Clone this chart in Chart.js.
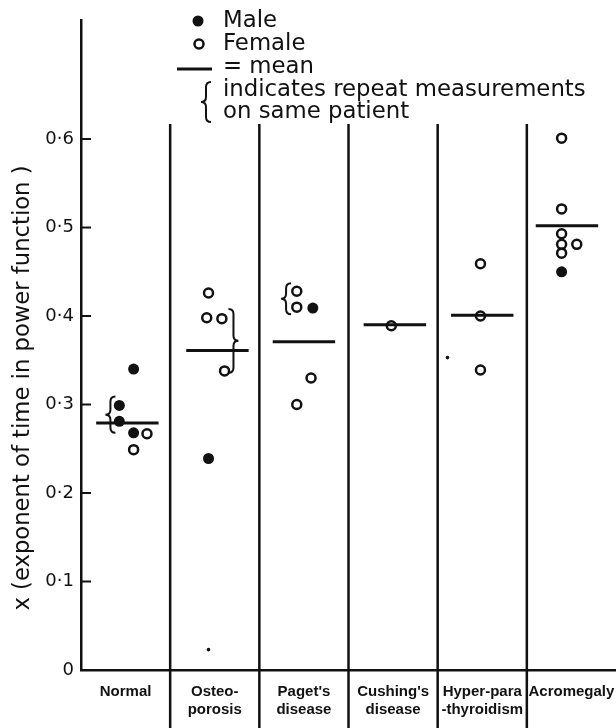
<!DOCTYPE html>
<html>
<head>
<meta charset="utf-8">
<script src="https://cdn.jsdelivr.net/npm/chart.js@4.4.0/dist/chart.umd.min.js"></script>
<style>
  html, body { margin: 0; padding: 0; background: #fff; overflow: hidden; }
  canvas { display: block; }
</style>
</head>
<body>
<canvas id="chart" width="616" height="728"></canvas>
<script>
// categories along the bottom
const groupLabels = [['Normal'], ['Osteo-', 'porosis'], ["Paget's", 'disease'], ["Cushing's", 'disease'], ['Hyper-para', '-thyroidism'], ['Acromegaly']];

// male patients: group index, value, place inside the group (0..1)
const maleGroup  = [0, 0, 0, 0, 1, 2, 5];
const maleValue  = [0.340, 0.299, 0.281, 0.268, 0.239, 0.409, 0.450];
const maleOffset = [0.59, 0.43, 0.43, 0.59, 0.43, 0.60, 0.39];

// female patients
const femaleGroup  = [0, 0, 1, 1, 1, 1, 2, 2, 2, 2, 3, 4, 4, 4, 5, 5, 5, 5, 5, 5];
const femaleValue  = [0.267, 0.249, 0.426, 0.398, 0.397, 0.338, 0.428, 0.410, 0.330, 0.300, 0.389, 0.459, 0.400, 0.339, 0.601, 0.521, 0.493, 0.481, 0.481, 0.471];
const femaleOffset = [0.74, 0.59, 0.43, 0.41, 0.58, 0.61, 0.42, 0.42, 0.58, 0.42, 0.48, 0.48, 0.48, 0.48, 0.39, 0.39, 0.39, 0.39, 0.56, 0.39];

// stray specks printed in the figure
const speckGroup  = [1, 4];
const speckValue  = [0.023, 0.353];
const speckOffset = [0.43, 0.11];

// group means
const meanValue  = [0.279, 0.361, 0.371, 0.390, 0.401, 0.502];
const meanCenter = [0.52, 0.53, 0.50, 0.52, 0.50, 0.45];

// repeat-measurement braces: group, place, top value, bottom value, side (-1 = "{", 1 = "}")
const braceGroup  = [0, 1, 2];
const braceOffset = [0.33, 0.71, 0.30];
const braceTop    = [0.309, 0.408, 0.437];
const braceBottom = [0.268, 0.336, 0.402];
const braceSide   = [-1, 1, -1];

const yTicks = [0, 0.1, 0.2, 0.3, 0.4, 0.5, 0.6];

const ink = '#111';

function pts(g, v, o) {
  return v.map((val, i) => ({ x: g[i] + o[i], y: val }));
}

const meanSets = meanValue.map((m, i) => ({
  type: 'line',
  data: [{ x: i + meanCenter[i] - 0.35, y: m }, { x: i + meanCenter[i] + 0.35, y: m }],
  borderColor: ink,
  borderWidth: 3,
  pointRadius: 0,
  order: 3
}));

function drawBrace(ctx, x, y1, y2, side) {
  const a = 5 * -side;
  const r = Math.min(5, (y2 - y1) / 4);
  const m = (y1 + y2) / 2;
  ctx.beginPath();
  ctx.moveTo(x + a, y1);
  ctx.quadraticCurveTo(x, y1, x, y1 + r);
  ctx.lineTo(x, m - r);
  ctx.quadraticCurveTo(x, m, x - a, m);
  ctx.quadraticCurveTo(x, m, x, m + r);
  ctx.lineTo(x, y2 - r);
  ctx.quadraticCurveTo(x, y2, x + a, y2);
  ctx.stroke();
}

const extras = {
  id: 'extras',
  afterDraw(chart) {
    const ctx = chart.ctx;
    const xs = chart.scales.x, ys = chart.scales.y;
    const area = chart.chartArea;
    ctx.save();
    ctx.strokeStyle = ink;
    ctx.fillStyle = ink;
    ctx.lineCap = 'butt';

    // group dividers
    ctx.lineWidth = 2.5;
    for (let i = 1; i < groupLabels.length; i++) {
      const px = xs.getPixelForValue(i);
      ctx.beginPath();
      ctx.moveTo(px, ys.getPixelForValue(0.617));
      ctx.lineTo(px, chart.height);
      ctx.stroke();
    }

    // tick marks pointing inward
    ctx.lineWidth = 2;
    yTicks.forEach(t => {
      if (t === 0) return;
      const py = ys.getPixelForValue(t);
      ctx.beginPath();
      ctx.moveTo(area.left, py);
      ctx.lineTo(area.left + 10, py);
      ctx.stroke();
    });

    // braces
    ctx.lineWidth = 2;
    braceGroup.forEach((g, i) => {
      drawBrace(ctx, xs.getPixelForValue(g + braceOffset[i]),
        ys.getPixelForValue(braceTop[i]), ys.getPixelForValue(braceBottom[i]), braceSide[i]);
    });

    // legend
    ctx.font = '22.8px "DejaVu Sans"';
    ctx.textBaseline = 'middle';
    ctx.textAlign = 'left';
    ctx.beginPath(); ctx.arc(198, 21, 5.5, 0, Math.PI * 2); ctx.fill();
    ctx.fillText('Male', 223, 21);
    ctx.lineWidth = 2.5;
    ctx.beginPath(); ctx.arc(199, 44, 4.5, 0, Math.PI * 2); ctx.stroke();
    ctx.fillText('Female', 223, 44);
    ctx.lineWidth = 3;
    ctx.beginPath(); ctx.moveTo(177, 69); ctx.lineTo(212, 69); ctx.stroke();
    ctx.fillText('= mean', 223, 67);
    ctx.lineWidth = 2;
    drawBrace(ctx, 206, 82, 122, -1);
    ctx.fillText('indicates repeat measurements', 223, 90);
    ctx.fillText('on same patient', 223, 112);

    // y axis title
    const title = 'x (exponent of time in power function )';
    ctx.font = '20px "DejaVu Sans"';
    const w = ctx.measureText(title).width;
    const size = 20 * 445 / w;
    ctx.font = size.toFixed(1) + 'px "DejaVu Sans"';
    ctx.translate(23, 388);
    ctx.rotate(-Math.PI / 2);
    ctx.textAlign = 'center';
    ctx.fillText(title, 0, 0);
    ctx.restore();
  }
};

new Chart(document.getElementById('chart'), {
  type: 'scatter',
  data: {
    datasets: [
      ...meanSets,
      {
        label: 'Male',
        data: pts(maleGroup, maleValue, maleOffset),
        backgroundColor: ink,
        borderColor: ink,
        pointRadius: 5.5,
        borderWidth: 0,
        order: 1
      },
      {
        label: 'Female',
        data: pts(femaleGroup, femaleValue, femaleOffset),
        backgroundColor: 'rgba(255,255,255,0)',
        borderColor: ink,
        pointRadius: 4.5,
        borderWidth: 2.5,
        order: 1
      },
      {
        label: 'speck',
        data: pts(speckGroup, speckValue, speckOffset),
        backgroundColor: ink,
        borderColor: ink,
        pointRadius: 1.8,
        borderWidth: 0,
        order: 1
      }
    ]
  },
  options: {
    responsive: false,
    animation: false,
    events: [],
    layout: { autoPadding: false, padding: { top: 20, right: 0, left: 0, bottom: 0 } },
    plugins: { legend: { display: false }, tooltip: { enabled: false } },
    scales: {
      x: {
        type: 'linear',
        min: 0,
        max: groupLabels.length,
        grid: { display: false, drawTicks: false },
        border: { display: true, color: ink, width: 2.5 },
        afterBuildTicks: s => { s.ticks = groupLabels.map((_, i) => ({ value: i + 0.5 })); },
        afterFit: s => { s.height = 58; s.paddingLeft = 0; s.paddingRight = 0; },
        ticks: {
          autoSkip: false,
          maxRotation: 0,
          padding: 13,
          color: ink,
          font: { family: '"Liberation Sans"', size: 15, weight: 'bold', lineHeight: 1.2 },
          callback: (v, i) => groupLabels[i]
        }
      },
      y: {
        min: 0,
        max: 0.7345,
        grid: { display: false, drawTicks: false },
        border: { display: true, color: ink, width: 2.5 },
        afterBuildTicks: s => { s.ticks = yTicks.map(v => ({ value: v })); },
        afterFit: s => { s.width = 81; },
        ticks: {
          padding: 7,
          color: ink,
          font: { family: '"DejaVu Sans"', size: 18 },
          callback: v => v === 0 ? '0' : v.toFixed(1).replace('.', '\u00b7')
        }
      }
    }
  },
  plugins: [extras]
});
</script>
</body>
</html>
